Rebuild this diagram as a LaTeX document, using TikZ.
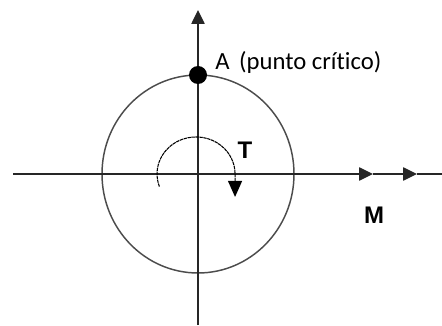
\documentclass[tikz,border=0pt]{standalone}
\usepackage{fontspec}
\setmainfont{Carlito}[Ligatures=NoCommon]
\newfontfamily\arialbf{Liberation Sans}[BoldFont={Liberation Sans Bold}]
\usetikzlibrary{positioning, arrows.meta}

\begin{document}
\begin{tikzpicture}[x=0.75pt, y=0.75pt,
    axis/.style={line width=1.1pt, black!85},
    ring/.style={line width=1.1pt, black!70},
    tip/.style={-{Triangle[length=10.5pt, width=10pt]}},
    vlabel/.style={font=\arialbf\bfseries\fontsize{18}{20}\selectfont, inner sep=0pt}]
  \useasboundingbox (0,0) rectangle (442,325);
  % origin and axis ends
  \coordinate (O) at (198,151);
  \coordinate (yb) at (198,0);
  \coordinate (yt) at (198,315);
  \coordinate (xl) at (13,151);
  \coordinate (x1) at (373,151);
  \coordinate (x2) at (417,151);
  \coordinate (xr) at (442,151);
  \coordinate (t0) at (159.4,138.4);
  % circle
  \draw[ring] (O) ellipse [x radius=96, y radius=99];
  % axes
  \draw[axis, tip] (yb) -- (yt);
  \draw[axis, tip] (xl) -- (x1);
  \draw[axis, tip] (x1) -- (x2);
  \draw[axis] (x2) -- (xr);
  % critical point
  \node[circle, fill=black, minimum size=13.5pt, inner sep=0pt] (A) at (198,250) {};
  \node[anchor=base west, inner sep=0pt, font=\fontsize{18.5}{20}\selectfont]
    (Alab) at (215,255) {A\, (punto crítico)};
  % torque
  \draw[line width=0.8pt, dash pattern=on 2.5pt off 0.5pt, -{Triangle[length=12pt, width=10.5pt]}]
    (t0) arc[start angle=200, end angle=0, x radius=39, y radius=37]
    -- ++(0,-23);
  \node[vlabel] (T) at (245,175) {T};
  \node[vlabel] (M) at (374,110) {M};
\end{tikzpicture}
\end{document}
